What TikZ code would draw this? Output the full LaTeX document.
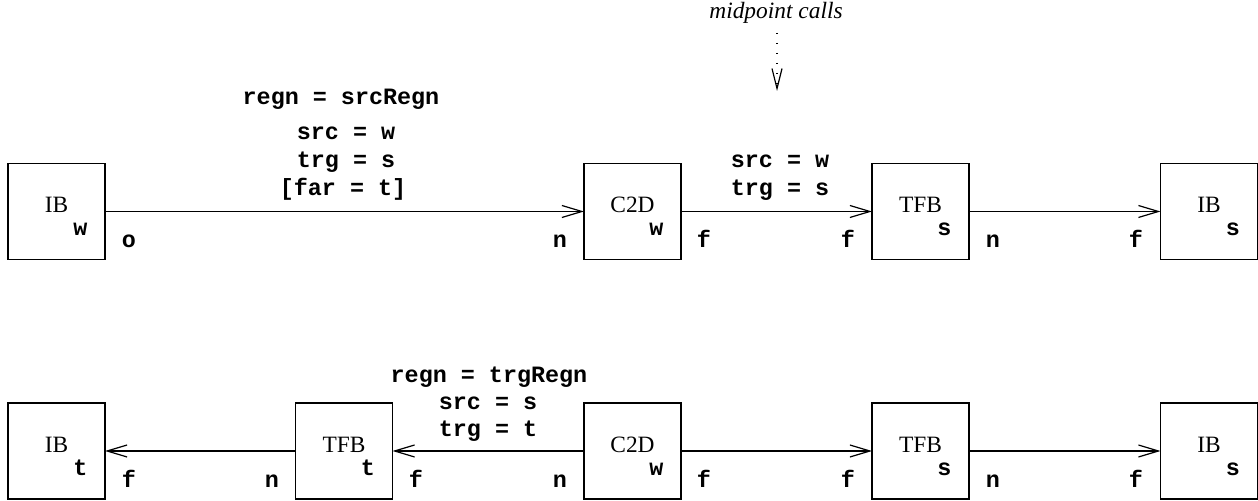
\documentclass[tikz,border=0pt]{standalone}
\usepackage{fontspec}
\setmainfont{Liberation Serif}
\setmonofont{Liberation Mono}
\usetikzlibrary{arrows.meta}
\begin{document}
\begin{tikzpicture}[x=0.5pt,y=-0.5pt,
  box/.style={draw,line width=0.6pt,minimum width=48.5pt,minimum height=48pt,inner sep=0pt,outer sep=0pt},
  arr/.style={line width=0.6pt,-{Straight Barb[length=10pt,width=6pt,line width=0.6pt]}},
  bname/.style={font=\fontsize{11.7}{14}\selectfont,anchor=base,inner sep=0pt},
  btag/.style={font=\fontsize{11.7}{14}\selectfont\ttfamily\bfseries,anchor=base,inner sep=0pt},
  bnote/.style={font=\fontsize{11.7}{14}\selectfont\itshape,anchor=base,inner sep=0pt},
  dotarr/.style={line width=0.6pt,dash pattern=on 0.6pt off 4.4pt,-{Straight Barb[length=10pt,width=5pt,line width=0.6pt]}}
]
\useasboundingbox (0,0) rectangle (1258,501);
% top row
\node[box] (ibA) at (56.5,211.5) {};
\node[box] (cdA) at (632.5,211.5) {};
\node[box] (tfA) at (920.5,211.5) {};
\node[box] (ibB) at (1209,211.5) {};
% bottom row
\node[box] (ibC) at (56.5,451) {};
\node[box] (tfB) at (344,451) {};
\node[box] (cdB) at (632.5,451) {};
\node[box] (tfC) at (920.5,451) {};
\node[box] (ibD) at (1209,451) {};
% box names
\node[bname] (nA) at ([yshift=-0.75pt]ibA.center) {IB};
\node[bname] (nB) at ([yshift=-0.75pt]cdA.center) {C2D};
\node[bname] (nC) at ([yshift=-0.75pt]tfA.center) {TFB};
\node[bname] (nD) at ([yshift=-0.75pt]ibB.center) {IB};
\node[bname] (nE) at ([yshift=-0.75pt]ibC.center) {IB};
\node[bname] (nF) at ([yshift=-0.75pt]tfB.center) {TFB};
\node[bname] (nG) at ([yshift=-0.75pt]cdB.center) {C2D};
\node[bname] (nH) at ([yshift=-0.75pt]tfC.center) {TFB};
\node[bname] (nI) at ([yshift=-0.75pt]ibD.center) {IB};
% sub tags
\node[btag] (sA) at ([shift={(12pt,-12.25pt)}]ibA.center) {w};
\node[btag] (sB) at ([shift={(12pt,-12.25pt)}]cdA.center) {w};
\node[btag] (sC) at ([shift={(12pt,-12.25pt)}]tfA.center) {s};
\node[btag] (sD) at ([shift={(12pt,-12.25pt)}]ibB.center) {s};
\node[btag] (sE) at ([shift={(12pt,-12.25pt)}]ibC.center) {t};
\node[btag] (sF) at ([shift={(12pt,-12.25pt)}]tfB.center) {t};
\node[btag] (sG) at ([shift={(12pt,-12.25pt)}]cdB.center) {w};
\node[btag] (sH) at ([shift={(12pt,-12.25pt)}]tfC.center) {s};
\node[btag] (sI) at ([shift={(12pt,-12.25pt)}]ibD.center) {s};
% port tags top
\node[btag] (pA) at (129,248) {o};
\node[btag] (pB) at (560,248) {n};
\node[btag] (pC) at (704,248) {f};
\node[btag] (pD) at (848,248) {f};
\node[btag] (pE) at (993,248) {n};
\node[btag] (pF) at (1136,248) {f};
% port tags bottom
\node[btag] (qA) at (129,487.5) {f};
\node[btag] (qB) at (272,487.5) {n};
\node[btag] (qC) at (416,487.5) {f};
\node[btag] (qD) at (560,487.5) {n};
\node[btag] (qE) at (704,487.5) {f};
\node[btag] (qF) at (848,487.5) {f};
\node[btag] (qG) at (993,487.5) {n};
\node[btag] (qH) at (1136,487.5) {f};
% connectors
\draw[arr] (ibA) -- (cdA);
\draw[arr] (cdA) -- (tfA);
\draw[arr] (tfA) -- (ibB);
\draw[arr] (tfB) -- (ibC);
\draw[arr] (cdB) -- (tfB);
\draw[arr] (cdB) -- (tfC);
\draw[arr] (tfC) -- (ibD);
% edge labels
\node[btag] (lA) at (341,105) {regn = srcRegn};
\node[btag] (lB) at (346,140) {src = w};
\node[btag] (lC) at (346,168) {trg = s};
\node[btag] (lD) at (343,196) {[far = t]};
\node[btag] (lE) at (780,168) {src = w};
\node[btag] (lF) at (780,196) {trg = s};
\node[btag] (lG) at (489,383) {regn = trgRegn};
\node[btag] (lH) at (488,410) {src = s};
\node[btag] (lI) at (488,437) {trg = t};
% midpoint calls
\node[bnote] (mp) at (776,19) {midpoint calls};
\coordinate (mpt) at (777,91);
\coordinate (mps) at (777,33);
\draw[dotarr] (mps) -- (mpt);
\end{tikzpicture}
\end{document}
